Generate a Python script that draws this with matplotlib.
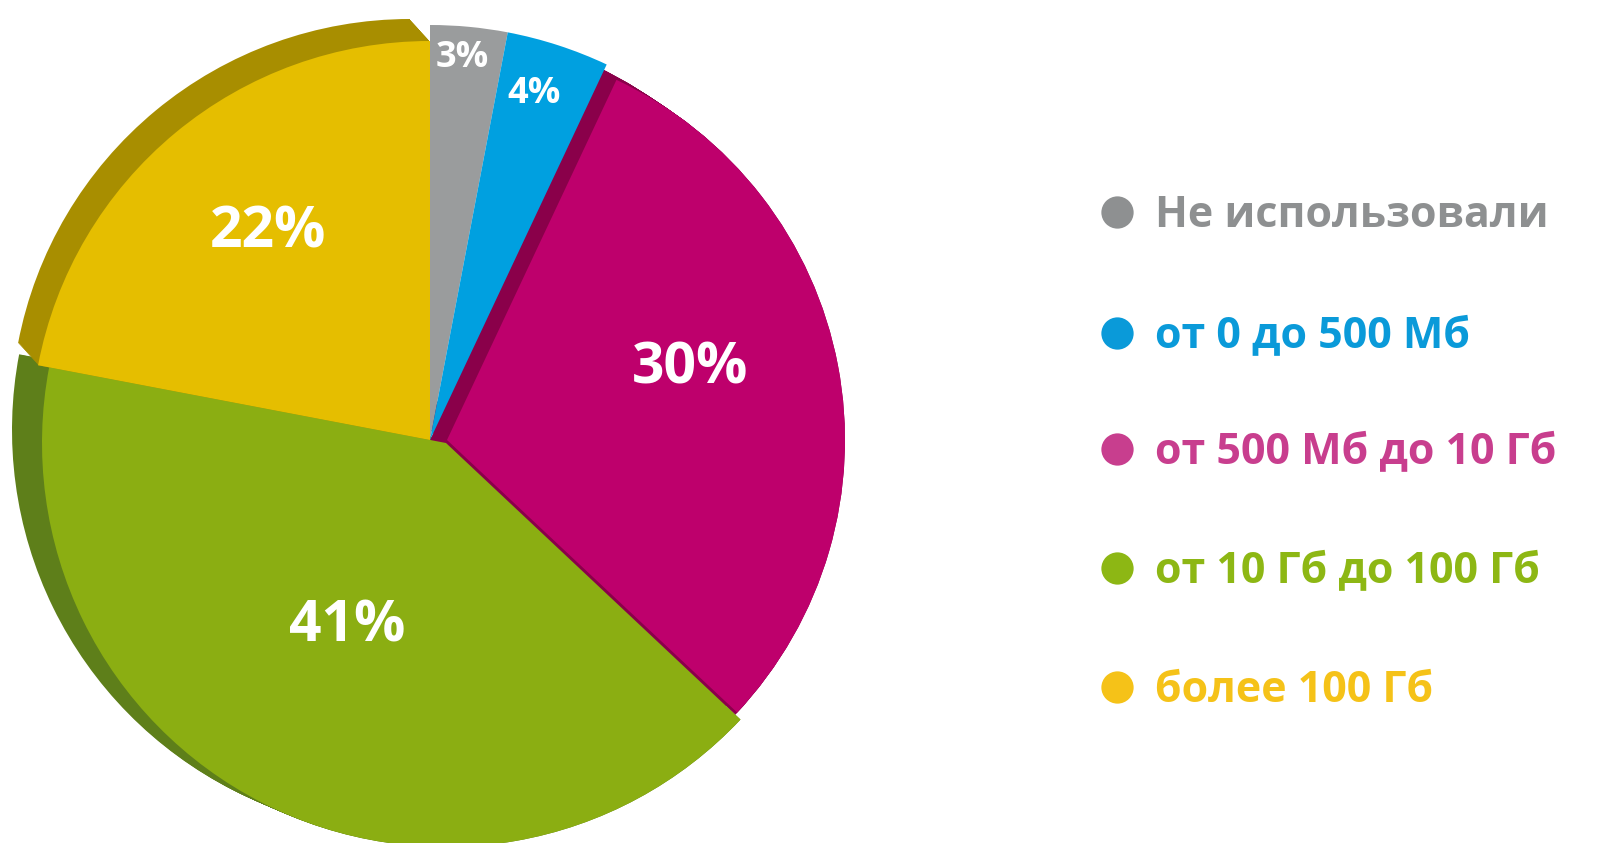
import matplotlib
matplotlib.use("Agg")
import matplotlib.pyplot as plt

# ---- data ----
categories = ["Не использовали", "от 0 до 500 Мб", "от 500 Мб до 10 Гб",
              "от 10 Гб до 100 Гб", "более 100 Гб"]
values = [3, 4, 30, 41, 22]

# ---- style ----
face_colors = ["#9A9C9D", "#00A0E0", "#BE006C", "#8BAE12", "#E5BE00"]
dark_colors = ["#7E8081", "#0080B8", "#8A004A", "#5E7F1A", "#A88E00"]
legend_colors = ["#8E9091", "#0A9AD9", "#C83E8E", "#8DB714", "#F5C218"]
FONT = ["Open Sans", "DejaVu Sans"]

W, H = 1600, 843
fig = plt.figure(figsize=(W / 100, H / 100), dpi=100)
ax = fig.add_axes([0, 0, 1, 1])

def img(x, y):
    return (x, H - y)

def layer(show, colors, cx, cy, radius):
    cols = [colors[i] if i in show else "none" for i in range(len(values))]
    ax.pie(values, colors=cols, startangle=90, counterclock=False,
           center=img(cx, cy), radius=radius,
           wedgeprops=dict(linewidth=0, edgecolor="none", antialiased=True))

def extrude(idx, face_c, back_c, radius, steps=20):
    for k in range(steps + 1):
        t = k / steps
        cx = face_c[0] + t * (back_c[0] - face_c[0])
        cy = face_c[1] + t * (back_c[1] - face_c[1])
        layer({idx}, dark_colors, cx, cy, radius)

# slice geometry (image pixel coords): face centre, back centre
C = (430, 440)
green_face, green_back = (446, 443), (416, 430)
yellow_face, yellow_back = (430, 440), (410, 418)
mag_face, mag_back = (447, 440), (426, 426)

# extruded sides (darker) behind faces
extrude(3, green_face, green_back, 404)
extrude(4, yellow_face, yellow_back, 399)
extrude(2, mag_face, mag_back, 398)
layer({2}, dark_colors, C[0], C[1], 398)
layer({2}, dark_colors, 446, 443, 397)

# faces
layer({0, 1}, face_colors, C[0], C[1], 415)
layer({2}, face_colors, *mag_face, 398)
layer({3}, face_colors, *green_face, 404)
layer({4}, face_colors, *yellow_face, 399)

ax.set_xlim(0, W)
ax.set_ylim(0, H)
ax.set_aspect("equal")
ax.axis("off")

# percentage labels (x centre, baseline y)
label_pos = [(462, 67), (534, 103), (690, 384), (347, 642), (268, 247)]
label_size = [26, 26, 41, 41, 41]
for v, (x, y), s in zip(values, label_pos, label_size):
    ax.text(*img(x, y), f"{v}%", color="white", fontsize=s, fontweight="bold",
            family=FONT, ha="center", va="baseline")

# legend
leg_y = [212, 333, 449, 568, 687]
for cat, col, y in zip(categories, legend_colors, leg_y):
    ax.scatter(*img(1117, y), s=540, color=col, linewidths=0)
    ax.text(*img(1155, y + 15), cat, color=col, fontsize=31, fontweight="bold",
            family=FONT, ha="left", va="baseline")

fig.savefig("out.png", dpi=100, facecolor="white")
